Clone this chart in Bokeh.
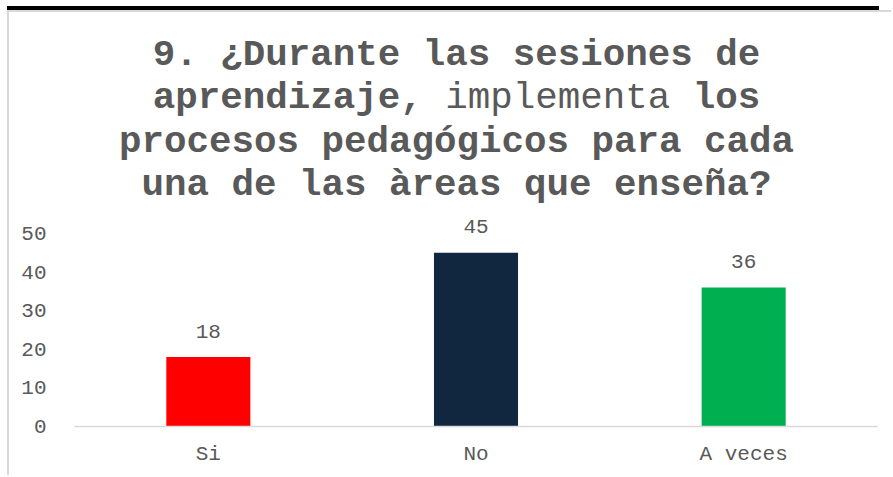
from bokeh.plotting import figure
from bokeh.models import Label, FixedTicker, Range1d
from bokeh.embed import file_html
from bokeh.resources import INLINE
from bokeh.core.properties import value

# ---- data ----
categories = ["Si", "No", "A veces"]
counts = [18, 45, 36]
bar_colors = ["#FF0000", "#11273F", "#00B050"]
y_ticks = [0, 10, 20, 30, 40, 50]
title_lines = [
    [("9. ¿Durante las sesiones de", "bold")],
    [("aprendizaje,", "bold"), (" implementa ", "normal"), ("los", "bold")],
    [("procesos pedagógicos para cada", "bold")],
    [("una de las àreas que enseña?", "bold")],
]

FONT = "Liberation Mono"
TXT = "#595959"
OX, OY = 9, 12          # canvas origin offset caused by margin + border
W, H = 884, 465
LEFT, RIGHT, BOTTOM = 74 - OX, 16, 51
frame_h = H - BOTTOM
px_per_unit = 3.86
y_end = frame_h / px_per_unit

p = figure(x_range=categories, y_range=Range1d(0, y_end), width=W, height=H,
           output_backend="svg", toolbar_location=None,
           min_border_left=LEFT, min_border_right=RIGHT,
           min_border_bottom=BOTTOM, min_border_top=0)
p.styles = {"margin-left": "7px", "margin-top": "10px",
            "border-left": "2px solid #d9d9d9", "border-top": "2px solid #d9d9d9",
            "box-shadow": "-6px -10px 0px -6px #000000"}
p.outline_line_color = None
p.xgrid.grid_line_color = None
p.ygrid.grid_line_color = None
p.background_fill_color = "white"
p.border_fill_color = "white"

p.vbar(x=categories, top=counts, width=0.314, color=bar_colors, line_color=None)
p.text(x=categories, y=counts, text=[str(c) for c in counts],
       text_align="center", text_baseline="alphabetic", y_offset=-26,
       text_font=value(FONT), text_font_size="21px", text_color=TXT)

# axes
xa = p.xaxis[0]
xa.axis_line_color = "#d9d9d9"
xa.axis_line_width = 1.5
xa.major_tick_line_color = None
xa.minor_tick_line_color = None
xa.major_label_standoff = 10
xa.major_label_text_font = FONT
xa.major_label_text_font_size = "21px"
xa.major_label_text_color = TXT

ya = p.yaxis[0]
ya.ticker = FixedTicker(ticks=y_ticks)
ya.axis_line_color = None
ya.major_tick_line_color = None
ya.minor_tick_line_color = None
ya.major_label_standoff = 22
ya.major_label_text_font = FONT
ya.major_label_text_font_size = "21px"
ya.major_label_text_color = TXT

# title (multi-weight, monospace -> compute segment offsets by character count)
FS = 37.5
cw = 0.6 * FS
center_canvas = 456 - OX
baselines_canvas = [54 - OY, 97 - OY, 141 - OY, 184 - OY]
for line, base in zip(title_lines, baselines_canvas):
    n = sum(len(s) for s, _ in line)
    start = center_canvas - n * cw / 2
    idx = 0
    for seg, weight in line:
        lead = len(seg) - len(seg.lstrip(" "))
        p.add_layout(Label(x=start + (idx + lead) * cw - LEFT, y=frame_h - base,
                           x_units="screen", y_units="screen", text=seg.strip(" "),
                           text_font=FONT, text_font_size=f"{FS}px",
                           text_font_style=weight, text_color=TXT,
                           text_align="left", text_baseline="alphabetic"))
        idx += len(seg)

open("out.html", "w").write(file_html(p, INLINE))
